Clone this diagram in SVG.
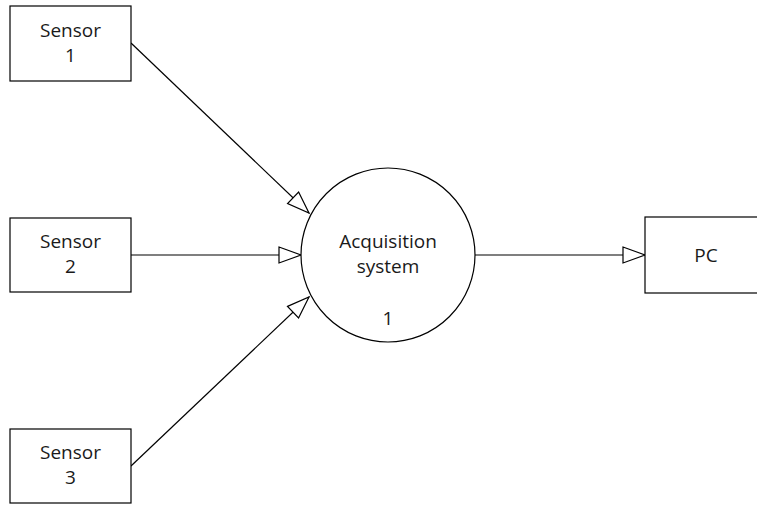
<svg xmlns="http://www.w3.org/2000/svg" width="757" height="505" viewBox="0 0 757 505">
<style>
.box{fill:#fff;stroke:#000;stroke-width:1.2}
.t{font-family:"Open Sans","Noto Sans",sans-serif;font-size:19px;fill:#1a1a1a;text-anchor:middle}
.c{stroke:#000;stroke-width:1.2;fill:none;marker-end:url(#ah)}
</style>
<defs>
<marker id="ah" markerUnits="userSpaceOnUse" markerWidth="26" markerHeight="20" viewBox="0 0 26 20" refX="23" refY="10" orient="auto">
<path d="M1,2 L23,10 L1,18 Z" fill="#fff" stroke="#000" stroke-width="1.2"/>
</marker>
</defs>
<g id="connectors">
<line class="c" x1="131" y1="43" x2="309" y2="213"/>
<line class="c" x1="131" y1="255" x2="301" y2="255"/>
<line class="c" x1="131" y1="466" x2="309" y2="297"/>
<line class="c" x1="475" y1="255" x2="645" y2="255"/>
</g>
<g id="sensor1">
<rect class="box" x="10" y="6" width="121" height="75"/>
<text class="t" x="70.5" y="37">Sensor</text>
<text class="t" x="70.5" y="62">1</text>
</g>
<g id="sensor2">
<rect class="box" x="10" y="218" width="121" height="74"/>
<text class="t" x="70.5" y="248">Sensor</text>
<text class="t" x="70.5" y="273">2</text>
</g>
<g id="sensor3">
<rect class="box" x="10" y="429" width="121" height="74"/>
<text class="t" x="70.5" y="459">Sensor</text>
<text class="t" x="70.5" y="484">3</text>
</g>
<g id="acquisition">
<circle cx="388" cy="255" r="87" fill="#fff" stroke="#000" stroke-width="1.2"/>
<text class="t" x="388" y="248">Acquisition</text>
<text class="t" x="388" y="273">system</text>
<text class="t" x="388" y="325">1</text>
</g>
<g id="pc">
<rect class="box" x="645" y="217" width="121" height="76"/>
<text class="t" x="706" y="262">PC</text>
</g>
</svg>
